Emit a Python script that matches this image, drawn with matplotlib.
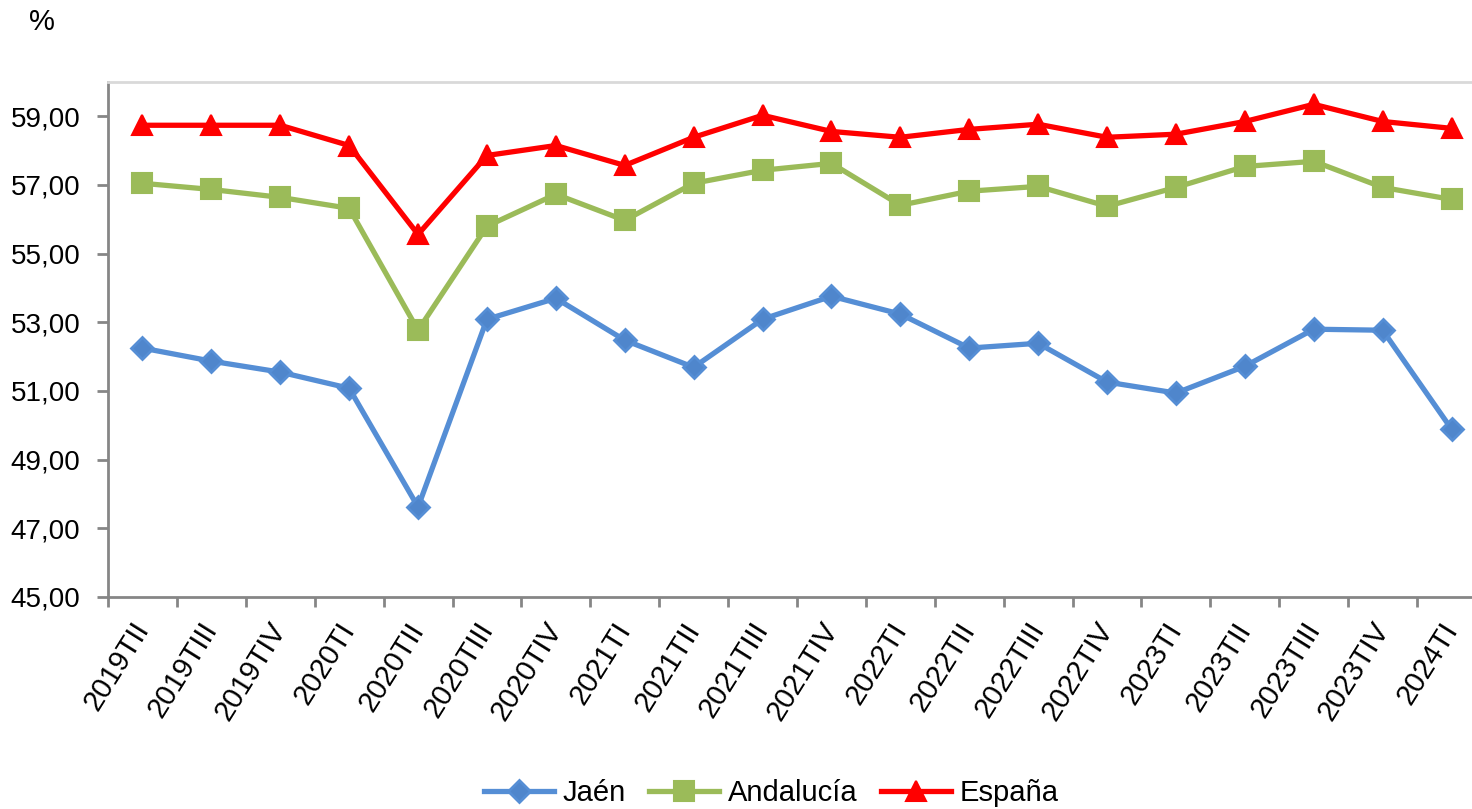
import matplotlib
matplotlib.use("Agg")
from matplotlib import pyplot as plt
import numpy as np

plt.rcParams['font.family'] = ['Liberation Sans', 'DejaVu Sans']

periodos = ['2019TII', '2019TIII', '2019TIV', '2020TI', '2020TII', '2020TIII',
            '2020TIV', '2021TI', '2021TII', '2021TIII', '2021TIV', '2022TI',
            '2022TII', '2022TIII', '2022TIV', '2023TI', '2023TII', '2023TIII',
            '2023TIV', '2024TI']

jaen = [52.25, 51.87, 51.55, 51.08, 47.62, 53.09, 53.70, 52.48, 51.69, 53.09,
        53.76, 53.24, 52.25, 52.39, 51.26, 50.94, 51.72, 52.80, 52.77, 49.89]
andalucia = [57.05, 56.87, 56.64, 56.32, 52.77, 55.80, 56.73, 55.97, 57.05, 57.43,
             57.63, 56.41, 56.82, 56.96, 56.38, 56.93, 57.54, 57.69, 56.93, 56.58]
espana = [58.74, 58.74, 58.74, 58.15, 55.56, 57.86, 58.15, 57.57, 58.39, 59.03,
          58.56, 58.39, 58.62, 58.77, 58.39, 58.48, 58.85, 59.35, 58.85, 58.65]

x = np.arange(len(periodos))
fs = 21

fig = plt.figure(figsize=(14.72, 8.09), dpi=100)
ax = fig.add_axes([108/1472, 1-597/809, (1486-108)/1472, (597-82)/809])

ax.plot(x, jaen, color='#558ED5', lw=3.8, marker='D', ms=11,
        mfc='#4F86CC', mec='#558ED5', mew=2, label='Jaén')
ax.plot(x, andalucia, color='#9BBB59', lw=3.8, marker='s', ms=15,
        mfc='#9BBB59', mec='#9BBB59', mew=1.5, label='Andalucía')
ax.plot(x, espana, color='#FF0000', lw=3.8, marker='^', ms=15,
        mfc='#FF0000', mec='#FF0000', mew=1.5, label='España')

ax.set_xlim(-0.5, len(periodos) - 0.5)
ax.set_ylim(45, 60)
ax.set_yticks(np.arange(45, 60, 2))
ax.set_yticklabels(['%d,00' % v for v in np.arange(45, 60, 2)], fontsize=20)

ax.set_xticks(x)
ax.set_xticklabels(periodos, fontsize=fs, rotation=58, ha='right',
                   va='center', rotation_mode='anchor')
ax.set_xticks(np.arange(-0.5, len(periodos), 1), minor=True)
ax.tick_params(axis='x', which='major', length=0, pad=20)
ax.tick_params(axis='x', which='minor', length=7, width=2, color='#868686')
ax.tick_params(axis='y', length=8, width=2, color='#868686', pad=12)

for s in ['left', 'bottom']:
    ax.spines[s].set_color('#868686')
    ax.spines[s].set_linewidth(2)
ax.spines['top'].set_color('#D9D9D9')
ax.spines['top'].set_linewidth(2)
ax.spines['right'].set_visible(False)

fig.text(42/1472, 1-22/809, '%', fontsize=fs, ha='center', va='center')

fig.legend(loc='center', bbox_to_anchor=(0.524, 1-793/809), ncol=3,
           frameon=False, fontsize=fs, handlelength=2.4, columnspacing=0.8,
           handletextpad=0.3)

fig.savefig('out.png', dpi=100)
